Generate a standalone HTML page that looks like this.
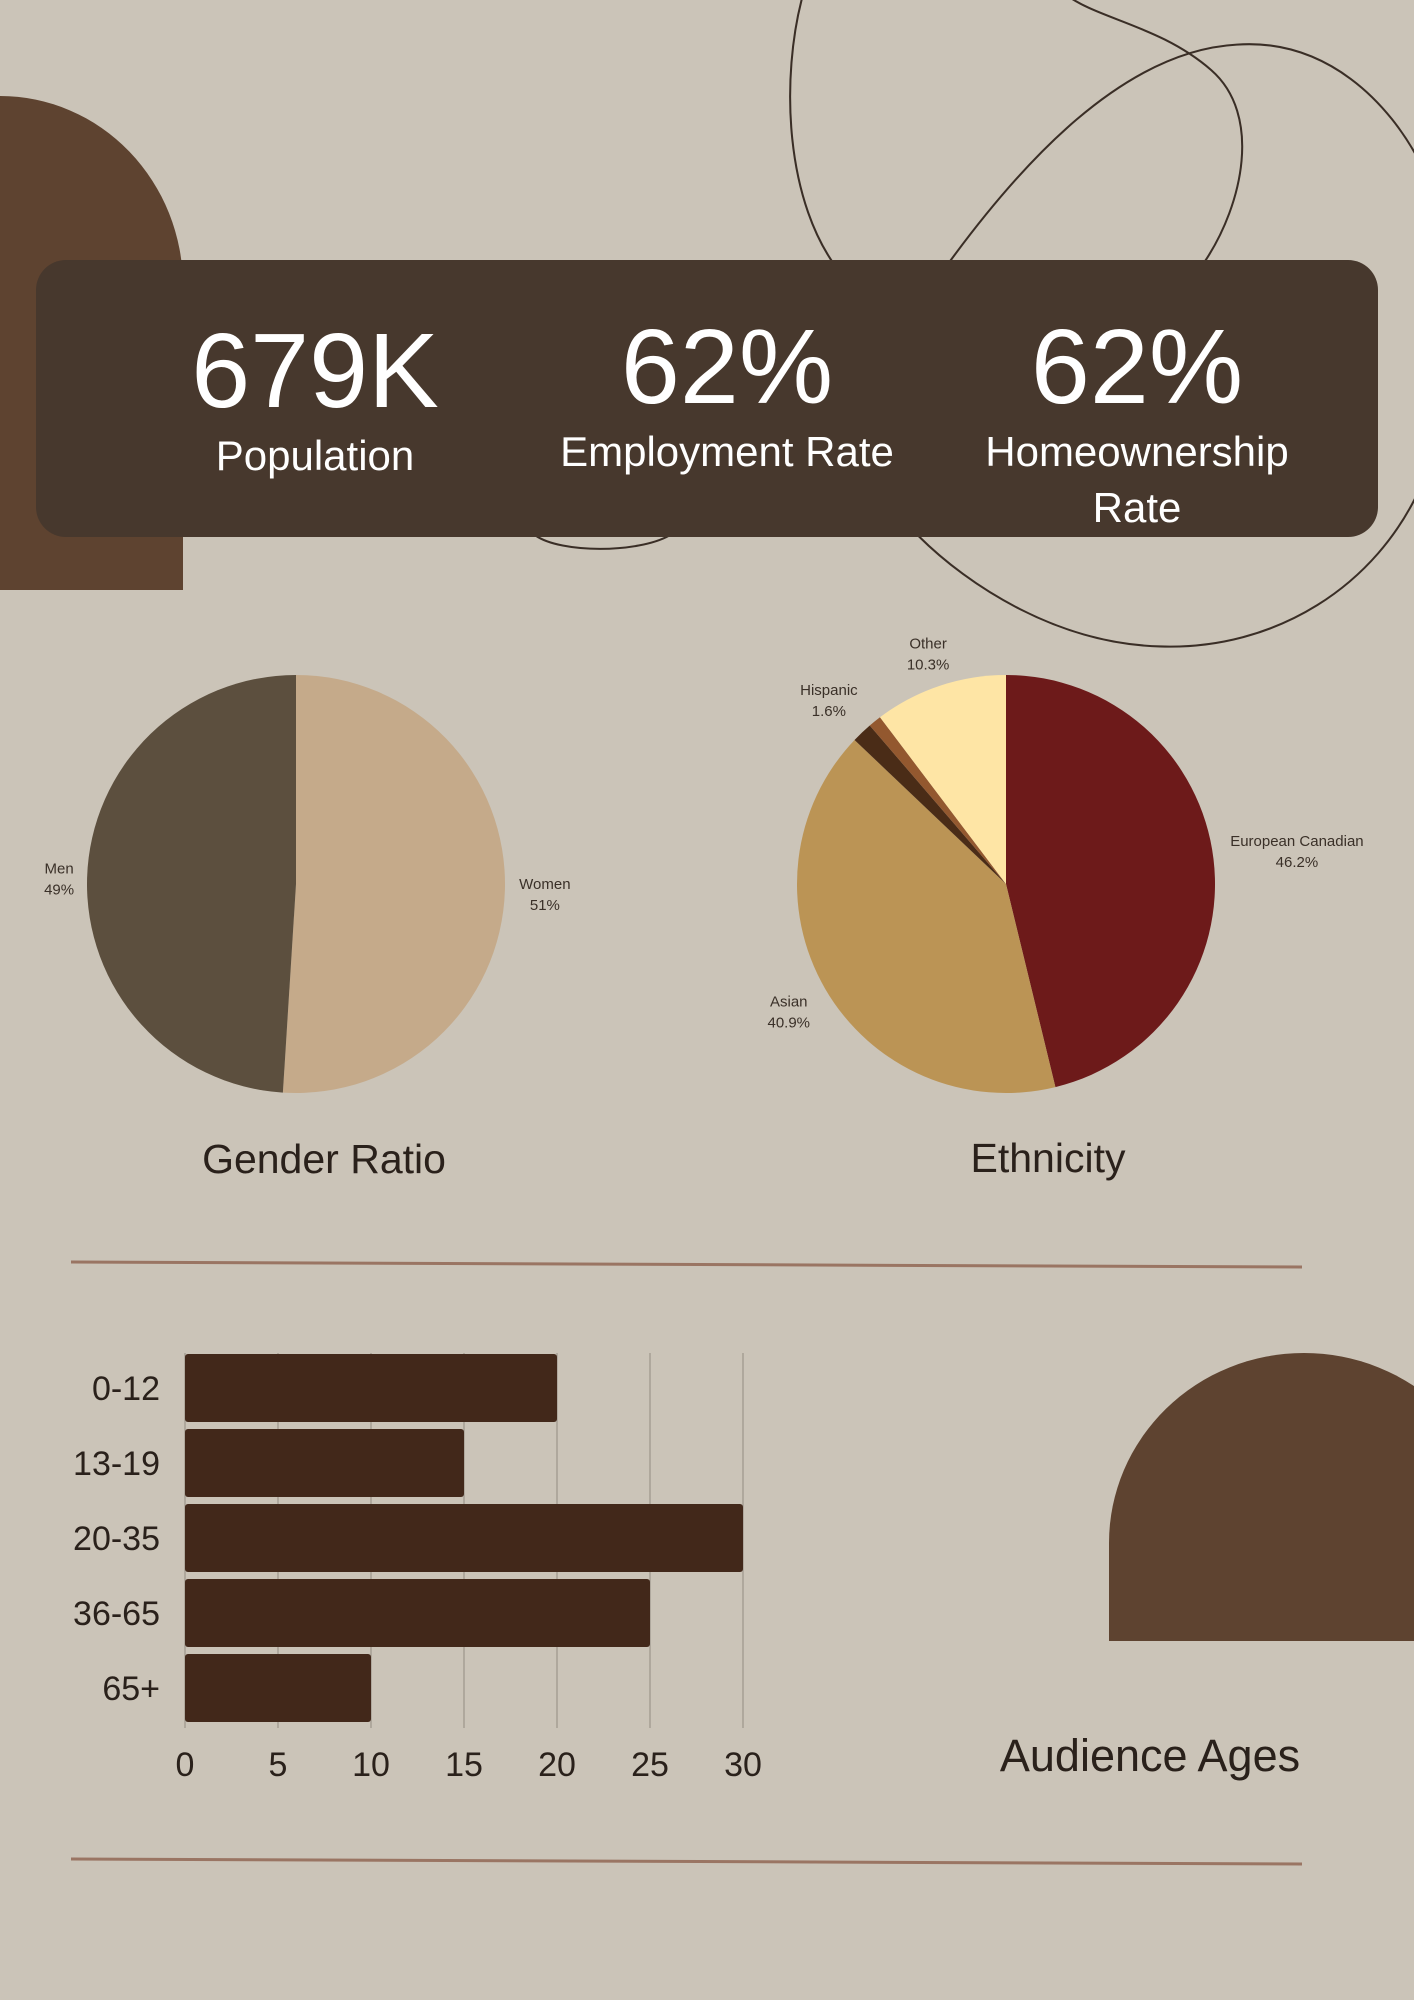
<!DOCTYPE html>
<html><head><meta charset="utf-8"><style>
body{margin:0;background:#cbc4b8;}
#page{position:relative;width:1414px;height:2000px;overflow:hidden;background:#cbc4b8;font-family:"Liberation Sans",sans-serif;}
.abs{position:absolute;}
.stat{position:absolute;width:420px;text-align:center;color:#fff;}
.big{font-size:106px;line-height:114px;}
.lbl{font-size:42px;line-height:56px;}
.title{position:absolute;font-size:41px;color:#2a211b;text-align:center;width:500px;}
</style></head><body>
<div id="page">
<div class="abs" style="left:0;top:96px;width:183px;height:494px;background:#5e4330;border-top-right-radius:183px 190px;"></div>
<svg class="abs" style="left:0;top:0" width="1414" height="700">
<g transform="scale(1.275)" fill="none" stroke="#3a2e26" stroke-width="1.6">
<path d="M630,-5 C612,60 615,160 660,215 C600,300 430,380 420,420 C440,434 500,434 525,420 C700,360 900,280 945,205 C975,160 990,90 950,55 C910,20 860,15 835,-5"/>
<path d="M745,205 C800,130 880,40 970,35 C1040,30 1090,80 1115,130 L1115,380 C1080,460 1000,510 910,507 C830,505 760,460 720,420"/>
</g></svg>
<div class="abs" style="left:36px;top:260px;width:1342px;height:277px;background:#47382d;border-radius:30px;"></div>
<div class="stat" style="left:105px;top:314px"><div class="big">679K</div><div class="lbl">Population</div></div>
<div class="stat" style="left:517px;top:310px"><div class="big">62%</div><div class="lbl">Employment Rate</div></div>
<div class="stat" style="left:927px;top:310px"><div class="big">62%</div><div class="lbl">Homeownership<br>Rate</div></div>

<svg class="abs" id="pies" style="left:0;top:600px" width="1414" height="600"></svg>
<div class="title" style="left:74px;top:1136px">Gender Ratio</div>
<div class="title" style="left:798px;top:1135px">Ethnicity</div>

<svg class="abs" style="left:0;top:0" width="1414" height="2000">
<line x1="71" y1="1262" x2="1302" y2="1267" stroke="#9a7563" stroke-width="3"/>
<line x1="71" y1="1859" x2="1302" y2="1864" stroke="#9a7563" stroke-width="3"/>
</svg>
<div class="abs" style="left:1109px;top:1353px;width:390px;height:288px;background:#5e4330;border-top-left-radius:195px 190px;border-top-right-radius:195px 190px;"></div>
<svg class="abs" id="bars" style="left:0;top:1300px" width="900" height="500"></svg>
<div class="abs" style="left:950px;top:1730px;width:400px;text-align:center;font-size:45px;color:#2a211b;">Audience Ages</div>
</div>
<script>
const NS="http://www.w3.org/2000/svg";
function mk(p,t,a){const e=document.createElementNS(NS,t);for(const k in a)e.setAttribute(k,a[k]);p.appendChild(e);return e;}
// Pie data
const genderLabels=["Women","Men"];
const genderValues=[51,49];
const genderColors=["#c5aa8a","#5c4f3e"];
const ethLabels=["European Canadian","Asian","Hispanic","","Other"];
const ethValues=[46.2,40.9,1.6,1.0,10.3];
const ethShown=["46.2%","40.9%","1.6%","","10.3%"];
const ethColors=["#6d1a1a","#bb9455","#4a2c17","#93582f","#fee5a5"];
const pies=document.getElementById('pies');
function pie(cx,cy,r,vals,cols,name,labels,texts,lpos){
  const tot=vals.reduce((a,b)=>a+b,0);let a0=0;
  vals.forEach((v,i)=>{
    const a1=a0+v/tot*2*Math.PI;
    const x0=cx+r*Math.sin(a0),y0=cy-r*Math.cos(a0),x1=cx+r*Math.sin(a1),y1=cy-r*Math.cos(a1);
    const p=mk(pies,'path',{d:`M${cx},${cy} L${x0},${y0} A${r},${r} 0 ${a1-a0>Math.PI?1:0} 1 ${x1},${y1} Z`,fill:cols[i]});
    
    
    if(labels[i]){
      const am=(a0+a1)/2,rr=r+lpos[i];
      const lx=cx+rr*Math.sin(am),ly=cy-rr*Math.cos(am);
      const t=mk(pies,'text',{x:lx,y:ly-3,'text-anchor':'middle','font-size':15,fill:'#3a3028','font-family':'"Liberation Sans",sans-serif'});
      
      
      t.textContent=labels[i];
      const t2=mk(pies,'text',{x:lx,y:ly+18,'text-anchor':'middle','font-size':15,fill:'#3a3028','font-family':'"Liberation Sans",sans-serif'});
      
      
      t2.textContent=texts[i];
    }
    a0=a1;
  });
}
pie(296,284,209,genderValues,genderColors,'gender',genderLabels,genderValues.map(v=>v+'%'),[40,28]);
pie(1006,284,209,ethValues,ethColors,'ethnicity',ethLabels,ethShown,[84,42,48,0,36]);
// Bar data
const ageCats=["0-12","13-19","20-35","36-65","65+"];
const ageValues=[20,15,30,25,10];
const xTicks=[0,5,10,15,20,25,30];
const bars=document.getElementById('bars');
const X0=185,X1=743,XMAX=30,TOP=53,BOT=428;
const xs=v=>X0+(v/XMAX)*(X1-X0);
const band=(BOT-TOP)/ageCats.length;
xTicks.forEach(v=>{
  const l=mk(bars,'line',{x1:xs(v),x2:xs(v),y1:TOP,y2:BOT,stroke:'#9d958b','stroke-width':1.2});
  
  
  const t=mk(bars,'text',{x:xs(v),y:BOT+48,'text-anchor':'middle','font-size':34,fill:'#2a211b','font-family':'"Liberation Sans",sans-serif'});
  
  
  t.textContent=v;
});
ageCats.forEach((c,i)=>{
  const y=TOP+i*band+1;
  const b=mk(bars,'rect',{x:X0,y:y,width:xs(ageValues[i])-X0,height:band-7,rx:3,fill:'#42281a'});
  
  
  const t=mk(bars,'text',{x:160,y:y+(band-7)/2+12,'text-anchor':'end','font-size':34,fill:'#2a211b','font-family':'"Liberation Sans",sans-serif'});
  
  
  t.textContent=c;
});
</script>
</body></html>
